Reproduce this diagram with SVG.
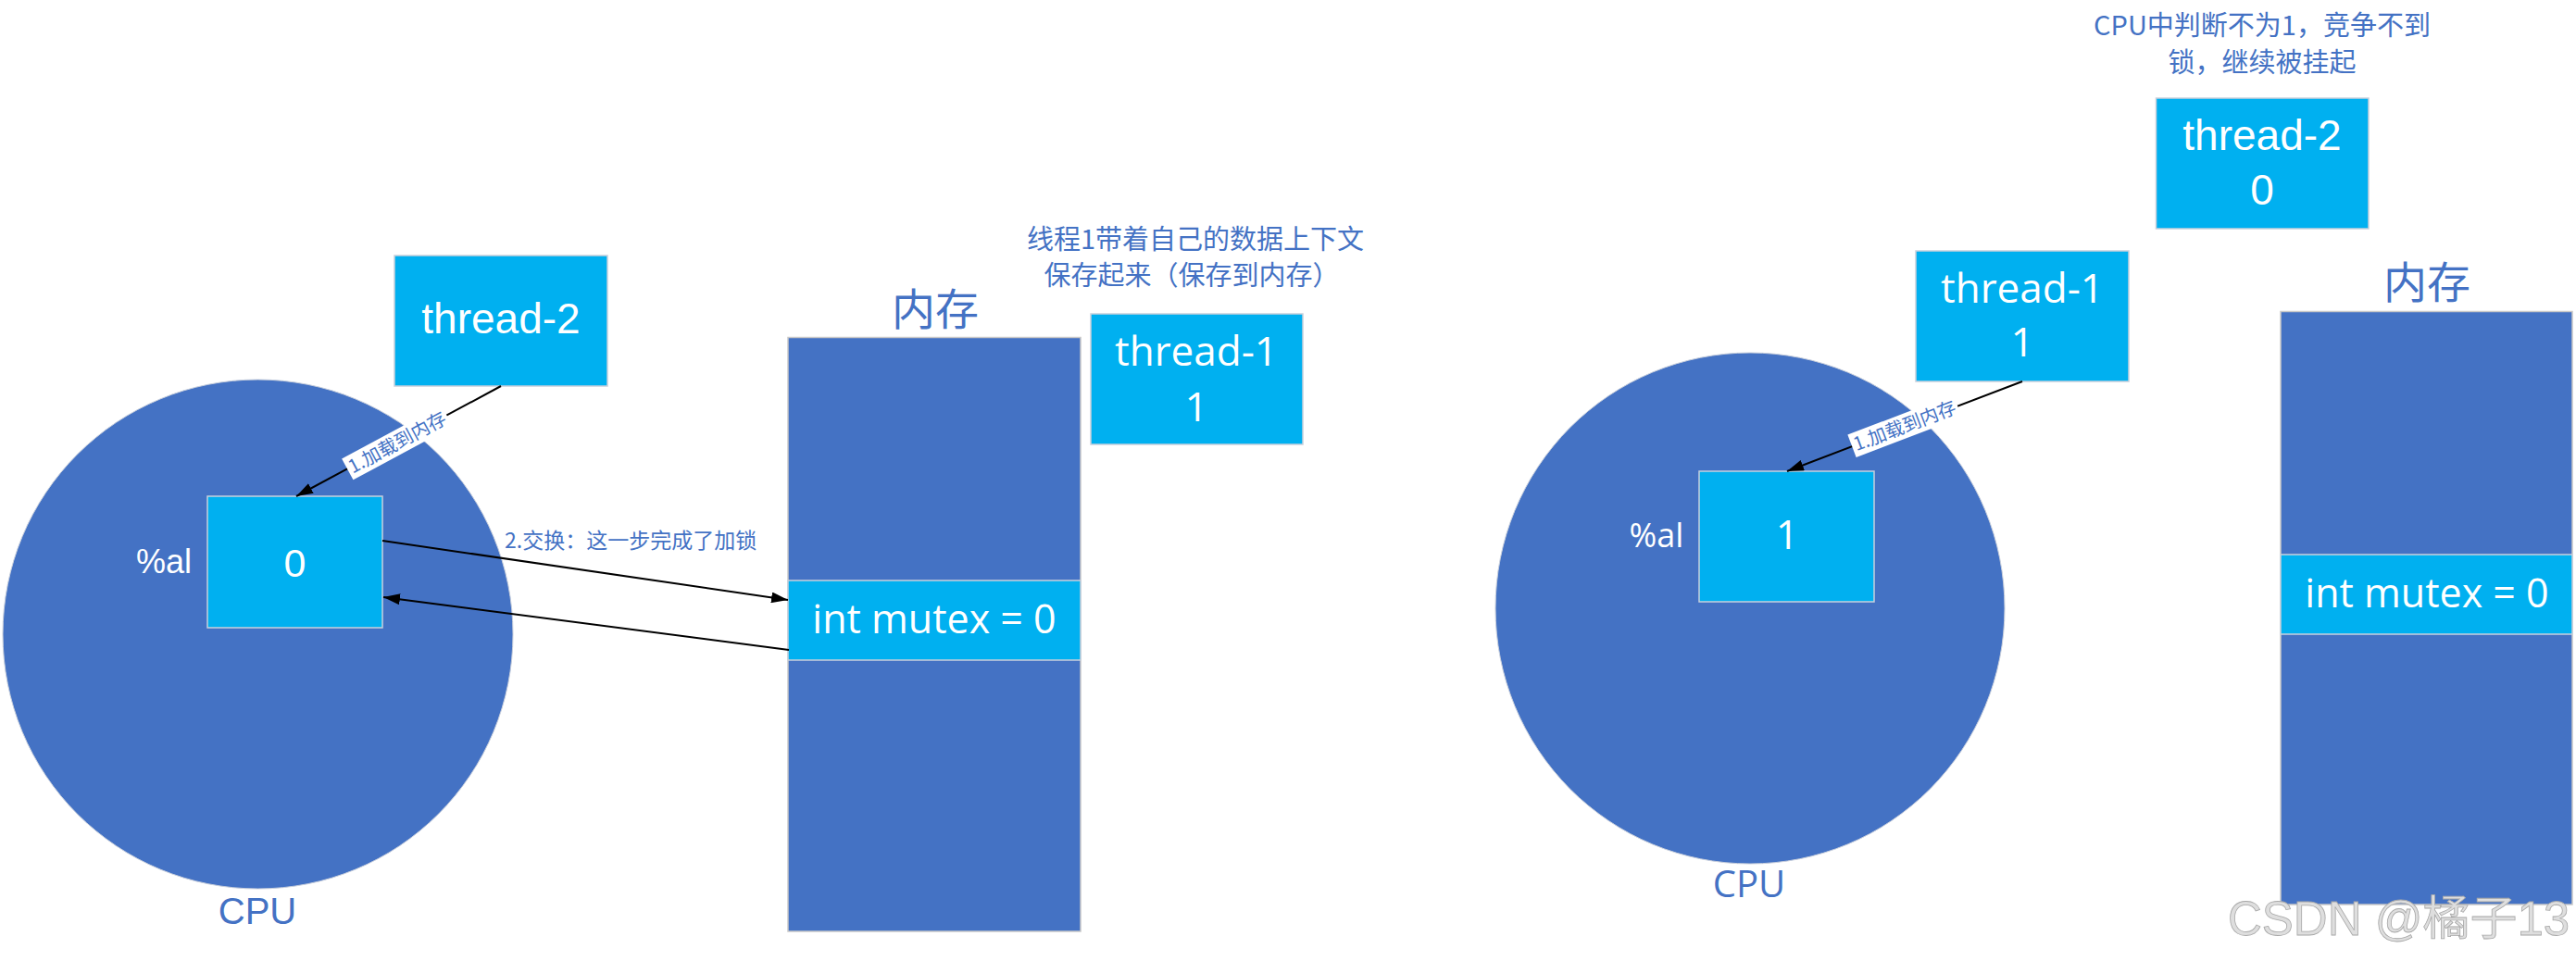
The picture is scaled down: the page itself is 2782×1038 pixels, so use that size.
<svg xmlns="http://www.w3.org/2000/svg" width="2782" height="1038" viewBox="0 0 2782 1038">
<style>
.bg{fill:#ffffff}
.cpu{fill:#4472C4;stroke:#c8cfdc;stroke-width:1}
.mem{fill:#4472C4;stroke:#c8c8c8;stroke-width:1.5}
.box{fill:#00B0F0;stroke:#c8d0dc;stroke-width:1.5}
.cal{font-family:"Liberation Sans",sans-serif;fill:#ffffff;text-anchor:middle}
.nun{font-family:"Open Sans",sans-serif;fill:#ffffff;text-anchor:middle}
.lab{font-family:"Liberation Sans","Noto Sans CJK SC",sans-serif;fill:#4472C4;text-anchor:middle}
.cn{font-family:"Noto Sans CJK SC",sans-serif;fill:#4472C4;text-anchor:middle}
.conn{stroke:#000000;stroke-width:2;fill:none}
.tag{fill:#ffffff}
.tagt{font-family:"Noto Sans CJK SC",sans-serif;fill:#4472C4;font-size:20px;text-anchor:middle}
</style>
<defs>
<marker id="ah" viewBox="0 0 18 12" refX="18" refY="6" markerWidth="18" markerHeight="12" markerUnits="userSpaceOnUse" orient="auto">
<path d="M0,0 L18,6 L0,12 z" fill="#000000"/>
</marker>
</defs>
<rect class="bg" x="0" y="0" width="2782" height="1038"/>

<!-- LEFT SCENE -->
<g id="cpu-left">
<ellipse class="cpu" cx="278.5" cy="685" rx="275.5" ry="275"/>
<text class="lab" x="278" y="998" font-size="40" style="font-family:'Liberation Sans',sans-serif">CPU</text>
<text class="cal" x="177" y="619" font-size="36">%al</text>
</g>
<g id="reg-left">
<rect class="box" x="224" y="536" width="189" height="142"/>
<text class="cal" x="318.5" y="623" font-size="43">0</text>
</g>
<g id="thread2-left">
<rect class="box" x="426" y="276" width="230" height="141"/>
<text class="cal" x="541" y="360" font-size="46">thread-2</text>
</g>
<g id="mem-left">
<text class="cn" x="1010" y="351" font-size="47">内存</text>
<rect class="mem" x="851" y="364.5" width="316" height="641.5"/>
<rect class="box" x="851" y="627" width="316" height="86"/>
<text class="nun" x="1009" y="684" font-size="43">int mutex = 0</text>
</g>
<g id="thread1-left">
<rect class="box" x="1178" y="339" width="229" height="141"/>
<text class="nun" x="1292" y="395" font-size="44">thread-1</text>
<text class="nun" x="1292" y="455" font-size="44">1</text>
</g>
<g id="note-left">
<text class="cn" x="1291" y="269" font-size="29">线程1带着自己的数据上下文</text>
<text class="cn" x="1287" y="308" font-size="29">保存起来（保存到内存）</text>
</g>

<!-- RIGHT SCENE -->
<g id="cpu-right">
<ellipse class="cpu" cx="1890" cy="657" rx="275" ry="276"/>
<text class="lab" x="1889" y="969" font-size="40" style="font-family:'Open Sans',sans-serif">CPU</text>
<text class="nun" x="1789" y="591" font-size="36">%al</text>
</g>
<g id="reg-right">
<rect class="box" x="1835" y="509" width="189" height="141"/>
<text class="nun" x="1930" y="593" font-size="43">1</text>
</g>
<g id="thread1-right">
<rect class="box" x="2069" y="271" width="230" height="141"/>
<text class="nun" x="2184" y="327" font-size="44">thread-1</text>
<text class="nun" x="2184" y="385" font-size="44">1</text>
</g>
<g id="thread2-right">
<rect class="box" x="2328.5" y="106" width="229.5" height="141"/>
<text class="cal" x="2443" y="162" font-size="46">thread-2</text>
<text class="cal" x="2443" y="221" font-size="46">0</text>
</g>
<g id="mem-right">
<text class="cn" x="2621" y="322" font-size="47">内存</text>
<rect class="mem" x="2463" y="336.5" width="315" height="640.5"/>
<rect class="box" x="2463" y="599" width="315" height="86"/>
<text class="nun" x="2621" y="656" font-size="43">int mutex = 0</text>
</g>
<g id="note-right">
<text class="cn" x="2443" y="38" font-size="29">CPU中判断不为1，竞争不到</text>
<text class="cn" x="2443" y="78" font-size="29">锁，继续被挂起</text>
</g>

<!-- CONNECTORS -->
<g id="connectors">
<line class="conn" x1="541" y1="417" x2="320" y2="536" marker-end="url(#ah)"/>
<line class="conn" x1="413" y1="584" x2="851" y2="648" marker-end="url(#ah)"/>
<line class="conn" x1="852" y1="702" x2="414" y2="645" marker-end="url(#ah)"/>
<line class="conn" x1="2184" y1="412" x2="1930" y2="509" marker-end="url(#ah)"/>
<g transform="translate(429,478) rotate(-28.3)">
<rect class="tag" x="-61" y="-13" width="122" height="26"/>
<text class="tagt" x="0" y="7">1.加载到内存</text>
</g>
<g transform="translate(2057,460) rotate(-20.9)">
<rect class="tag" x="-61" y="-13" width="122" height="26"/>
<text class="tagt" x="0" y="7">1.加载到内存</text>
</g>
<text class="cn" x="545" y="592" font-size="23" text-anchor="start" style="text-anchor:start">2.交换：这一步完成了加锁</text>
</g>

<g id="watermark">
<text x="2406" y="1010" font-size="51" font-family="Liberation Sans, Noto Sans CJK SC, sans-serif" fill="#dedede" stroke="#a8a8a8" stroke-width="0.8">CSDN @橘子13</text>
</g>
</svg>
